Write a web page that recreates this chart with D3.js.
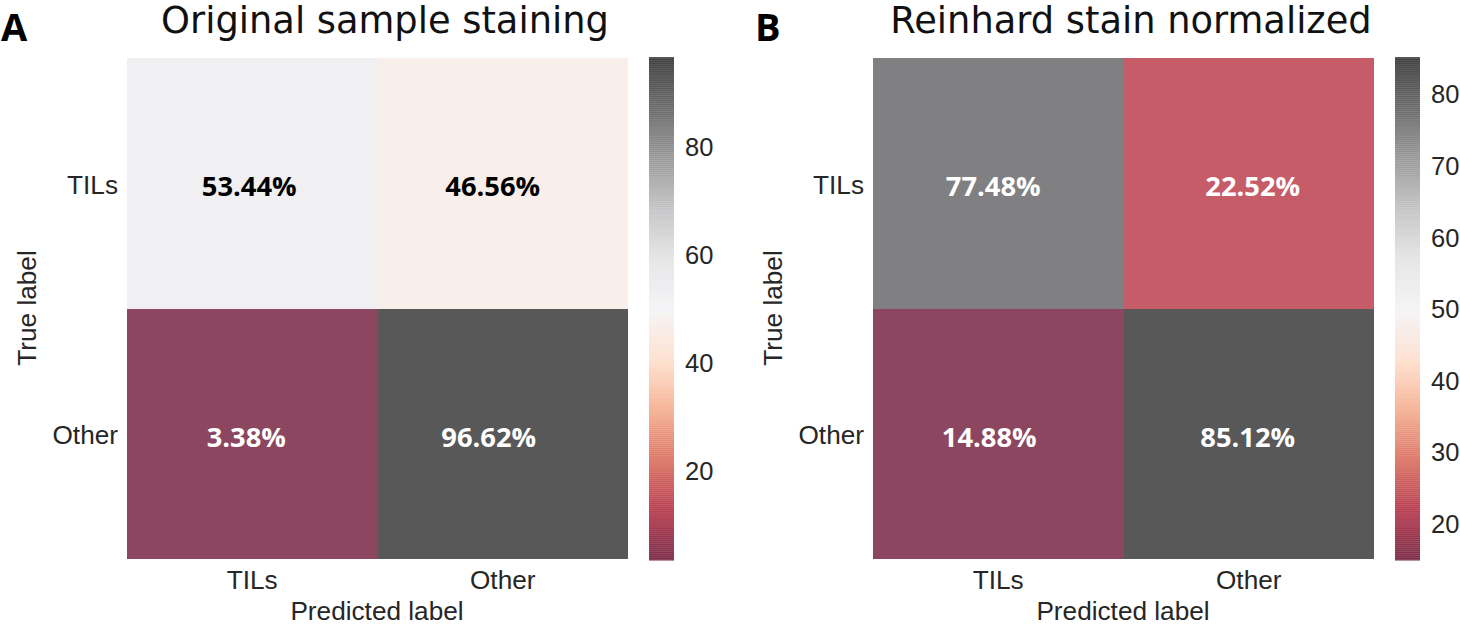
<!DOCTYPE html>
<html>
<head>
<meta charset="utf-8">
<script src="https://cdn.jsdelivr.net/npm/d3@7"></script>
<style>
  html, body { margin: 0; padding: 0; background: #fff; }
  svg { display: block; }
  .tick text { font-family: "Liberation Sans", Arial, sans-serif; font-size: 26.2px; fill: #262626; }
  .bar-axis .tick text { font-size: 25.5px; }
  .axis-label { font-family: "Liberation Sans", Arial, sans-serif; font-size: 26.2px; fill: #262626; }
  .title { font-family: "DejaVu Sans", sans-serif; font-size: 36.8px; fill: #111; }
  .panel { font-family: "Open Sans", sans-serif; font-size: 38px; font-weight: 700; fill: #000; }
  .pct { font-family: "Open Sans", sans-serif; font-size: 27.3px; font-weight: 700; }
</style>
</head>
<body>
<svg id="chart" width="1460" height="625"></svg>
<script>
var categories = ['TILs', 'Other'];

var titles = ['Original sample staining', 'Reinhard stain normalized'];
var panelLetters = ['A', 'B'];

// row by row: TILs, Other
var originalValues = [[53.44, 46.56], [3.38, 96.62]];
var reinhardValues = [[77.48, 22.52], [14.88, 85.12]];

var originalTicks = [20, 40, 60, 80];
var reinhardTicks = [20, 30, 40, 50, 60, 70, 80];

// RdGy reversed, nudged to the slightly cool tint of the reference
var ramp = ['#65082a', '#ad1f33', '#d6604d', '#f4a582', '#fddbc7', '#f2f2f5',
            '#e0e0e2', '#bababc', '#88888a', '#515153', '#202022'];
var cellOpacity = 0.75;

// the percent labels were placed by hand in the original, not centred
var originalNudge = [[-3, -10], [-6, -14]];
var reinhardNudge = [[-5, 4], [-9, -1]];

var svg = d3.select('#chart');

function drawPanel(opts) {
	var g = svg.append('g');
	var flat = d3.merge(opts.values);
	var extent = d3.extent(flat);

	var x = d3.scaleBand().domain(categories).range([opts.left, opts.left + 501]);
	var y = d3.scaleBand().domain(categories).range([58, 559]);
	var t = d3.scaleLinear().domain(extent).range([0, 1]);
	var ramped = d3.scaleLinear()
		.domain(ramp.map(function(d, i) { return i / (ramp.length - 1); }))
		.range(ramp);
	var color = function(v) { return ramped(t(v)); };

	// cells
	opts.values.forEach(function(row, r) {
		row.forEach(function(v, c) {
			g.append('rect')
				.attr('x', x(categories[c]))
				.attr('y', y(categories[r]))
				.attr('width', x.bandwidth())
				.attr('height', y.bandwidth())
				.attr('fill', color(v))
				.attr('fill-opacity', cellOpacity)
				.attr('shape-rendering', 'crispEdges');

			g.append('text')
				.attr('class', 'pct')
				.attr('x', x(categories[c]) + x.bandwidth() / 2 + opts.nudge[r][c])
				.attr('y', y(categories[r]) + y.bandwidth() / 2 + 13)
				.attr('text-anchor', 'middle')
				.attr('fill', (v > 40 && v < 60) ? '#000' : '#fff')
				.text(v.toFixed(2) + '%');
		});
	});

	// axes
	var xAxis = d3.axisBottom(x).tickSize(0).tickPadding(11);
	g.append('g').attr('transform', 'translate(0,559)').call(xAxis)
		.call(function(s) { s.select('.domain').remove(); });

	var yAxis = d3.axisLeft(y).tickSize(0).tickPadding(9);
	g.append('g').attr('transform', 'translate(' + opts.left + ',2)').call(yAxis)
		.call(function(s) { s.select('.domain').remove(); });

	g.append('text').attr('class', 'axis-label')
		.attr('x', opts.left + 250).attr('y', 620)
		.attr('text-anchor', 'middle').text('Predicted label');

	g.append('text').attr('class', 'axis-label')
		.attr('transform', 'translate(' + (opts.left - 91) + ',308) rotate(-90)')
		.attr('text-anchor', 'middle').text('True label');

	g.append('text').attr('class', 'title')
		.attr('x', opts.left + 258).attr('y', 33)
		.attr('text-anchor', 'middle').text(opts.title);

	g.append('text').attr('class', 'panel')
		.attr('x', opts.letterX).attr('y', 41)
		.text(opts.letter);

	// colorbar, strips overlap a little so the banding shows up
	var barLeft = opts.left + 522, barWidth = 25;
	var by = d3.scaleLinear().domain(extent).range([560, 57]);
	var levels = d3.range(256).map(function(i) {
		return extent[0] + (extent[1] - extent[0]) * i / 255;
	});
	var step = (560 - 57) / 256;
	g.append('g').selectAll('rect').data(levels).enter().append('rect')
		.attr('x', barLeft)
		.attr('y', function(d, i) { return 560 - (i + 1) * step; })
		.attr('width', barWidth)
		.attr('height', step + 0.6)
		.attr('fill', color)
		.attr('fill-opacity', cellOpacity);

	var barAxis = d3.axisRight(by).tickValues(opts.ticks).tickSize(0).tickPadding(11);
	g.append('g').attr('class', 'bar-axis')
		.attr('transform', 'translate(' + (barLeft + barWidth) + ',1)').call(barAxis)
		.call(function(s) { s.select('.domain').remove(); });
}

drawPanel({ left: 127, letterX: 1, values: originalValues, nudge: originalNudge, ticks: originalTicks, title: titles[0], letter: panelLetters[0] });
drawPanel({ left: 873, letterX: 755, values: reinhardValues, nudge: reinhardNudge, ticks: reinhardTicks, title: titles[1], letter: panelLetters[1] });
</script>
</body>
</html>
